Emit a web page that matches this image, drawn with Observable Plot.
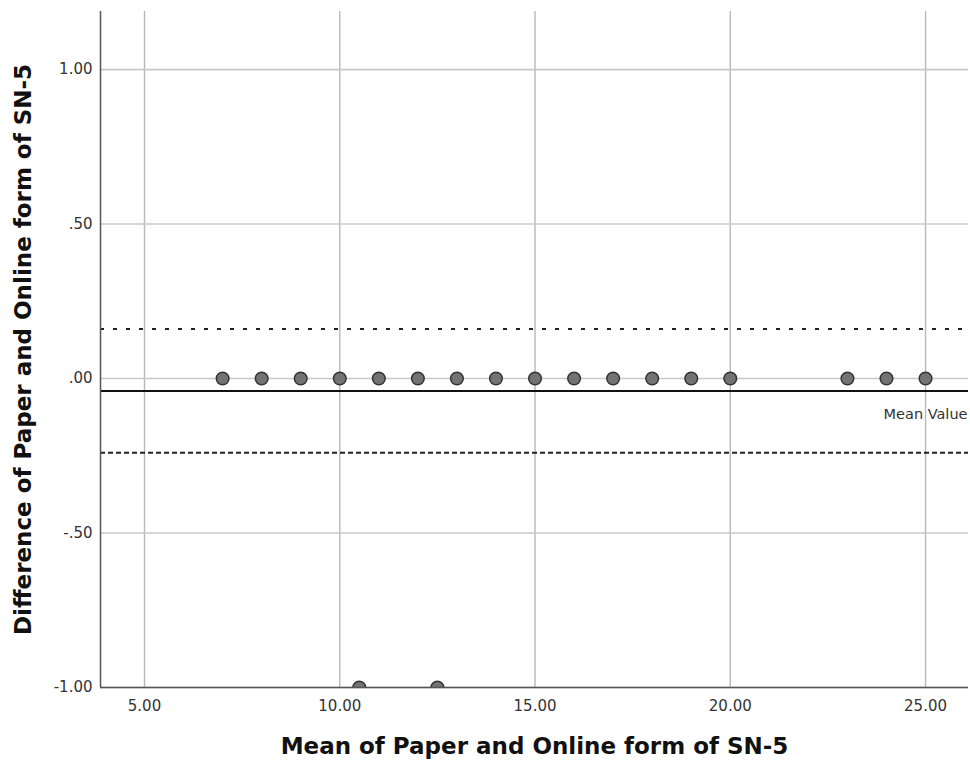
<!DOCTYPE html>
<html>
<head>
<meta charset="utf-8">
<script src="https://cdn.jsdelivr.net/npm/d3@7"></script>
<script src="https://cdn.jsdelivr.net/npm/@observablehq/plot@0.6"></script>
<style>
  html, body { margin: 0; padding: 0; background: #fff; }
  #chart svg { display: block; }
</style>
</head>
<body>
<div id="chart"></div>
<script>
// Points with zero difference
const meanZero = [7, 8, 9, 10, 11, 12, 13, 14, 15, 16, 17, 18, 19, 20, 23, 24, 25];
const diffZero = meanZero.map(() => 0);
// Points with difference -1
const meanNeg = [10.5, 12.5];
const diffNeg = [-1, -1];

const meanDiff = -0.04;
const upperLimit = 0.16;
const lowerLimit = -0.24;

const xTicks = [5, 10, 15, 20, 25];
const yTicks = [-1, -0.5, 0, 0.5, 1];
const yTickLabels = ["-1.00", "-.50", ".00", ".50", "1.00"];

const xLabel = "Mean of Paper and Online form of SN-5";
const yLabel = "Difference of Paper and Online form of SN-5";

const points = [
  ...meanZero.map((m, i) => ({mean: m, diff: diffZero[i]})),
  ...meanNeg.map((m, i) => ({mean: m, diff: diffNeg[i]}))
];

const font = "'DejaVu Sans', sans-serif";

const chart = Plot.plot({
  width: 970,
  height: 764,
  marginLeft: 100,
  marginRight: 2,
  marginTop: 11,
  marginBottom: 77,
  style: {fontFamily: font, background: "#fff"},
  x: {domain: [3.873, 26.1]},
  y: {domain: [-1, 1.188]},
  marks: [
    Plot.gridX(xTicks, {stroke: "#b8b8b8", strokeOpacity: 1, strokeWidth: 1.4}),
    Plot.gridY(yTicks, {stroke: "#c8c8c8", strokeOpacity: 1, strokeWidth: 1.6}),
    Plot.ruleY([upperLimit], {stroke: "#222", strokeWidth: 2, strokeDasharray: "4,9"}),
    Plot.ruleY([lowerLimit], {stroke: "#222", strokeWidth: 2, strokeDasharray: "5,3"}),
    Plot.ruleY([meanDiff], {stroke: "#111", strokeWidth: 2}),
    Plot.text(["Mean Value"], {
      frameAnchor: "right", y: [meanDiff], dy: 23, dx: -1,
      textAnchor: "end", fontSize: 14.5, fill: "#333", stroke: "#fff", strokeWidth: 2
    }),
    Plot.dot(points, {x: "mean", y: "diff", r: 6.3, fill: "#737373", stroke: "#333", strokeWidth: 1.5, clip: true}),
    Plot.ruleX([3.873], {stroke: "#555", strokeWidth: 1.5}),
    Plot.ruleY([-1], {stroke: "#555", strokeWidth: 1.5}),
    Plot.axisX(xTicks, {tickSize: 0, tickPadding: 13, tickFormat: d => d.toFixed(2), fontSize: 15, color: "#333", label: null}),
    Plot.axisY(yTicks, {tickSize: 0, tickPadding: 8, tickFormat: d => yTickLabels[yTicks.indexOf(d)], fontSize: 15, color: "#333", label: null}),
    Plot.text([xLabel], {frameAnchor: "bottom", textAnchor: "middle", dy: 66, fontSize: 23, fontWeight: "bold", fill: "#111"}),
    Plot.text([yLabel], {frameAnchor: "left", textAnchor: "middle", dx: -77, rotate: -90, fontSize: 23, fontWeight: "bold", fill: "#111"})
  ]
});

document.getElementById("chart").appendChild(chart);
</script>
</body>
</html>
